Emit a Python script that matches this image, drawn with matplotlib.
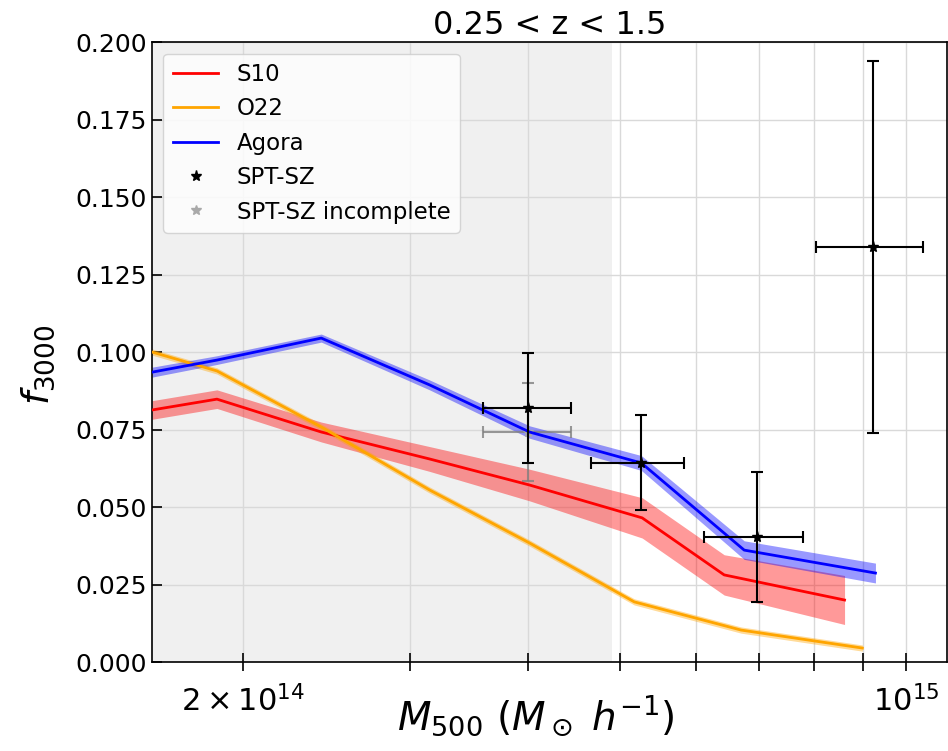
import numpy as np
import matplotlib
matplotlib.use("Agg")
import matplotlib.pyplot as plt
from matplotlib.ticker import FuncFormatter

# masses (M_sun / h) and f3000 values
m_s10 = [1.605e14, 1.879e14, 2.42e14, 3.147e14, 4.01e14, 5.27e14, 6.43e14, 8.61e14]
f_s10 = [0.0813, 0.0848, 0.0742, 0.0655, 0.0571, 0.0465, 0.0281, 0.0200]
e_s10 = [0.0030, 0.0030, 0.0032, 0.0040, 0.0051, 0.0065, 0.0065, 0.0079]

m_o22 = [1.605e14, 1.879e14, 2.42e14, 3.147e14, 4.01e14, 5.17e14, 6.70e14, 8.99e14]
f_o22 = [0.1000, 0.0939, 0.0758, 0.0555, 0.0384, 0.0194, 0.0103, 0.0045]
e_o22 = [0.0010, 0.0010, 0.0010, 0.0010, 0.0010, 0.0010, 0.0010, 0.0010]

m_agora = [1.605e14, 1.879e14, 2.42e14, 3.147e14, 4.01e14, 5.26e14, 6.75e14, 9.28e14]
f_agora = [0.0935, 0.0974, 0.1045, 0.0894, 0.0742, 0.0642, 0.0361, 0.0287]
e_agora = [0.0016, 0.0014, 0.0013, 0.0016, 0.0020, 0.0024, 0.0030, 0.0032]

# SPT-SZ measurements
m_spt = [4.0e14, 5.26e14, 6.97e14, 9.23e14]
m_spt_lo = [3.58e14, 4.66e14, 6.13e14, 8.04e14]
m_spt_hi = [4.44e14, 5.84e14, 7.79e14, 1.042e15]
f_spt = [0.0819, 0.0642, 0.0403, 0.1339]
f_spt_lo = [0.0642, 0.0490, 0.0194, 0.0739]
f_spt_hi = [0.0997, 0.0797, 0.0613, 0.1939]

# incomplete bin
m_inc = [4.0e14]
m_inc_lo = [3.58e14]
m_inc_hi = [4.44e14]
f_inc = [0.0742]
f_inc_lo = [0.0584]
f_inc_hi = [0.0900]

m_complete = 4.9e14


def asym(v, lo, hi):
    v = np.array(v)
    return [v - np.array(lo), np.array(hi) - v]


fig = plt.figure(figsize=(9.48, 7.51), dpi=100)
ax = fig.add_axes([0.1603, 0.1185, 0.8387, 0.8255])

ax.axvspan(1e13, m_complete, color='k', alpha=0.06, lw=0, zorder=0)

ax.plot(m_s10, f_s10, color='red', lw=2, label='S10', zorder=3)
ax.fill_between(m_s10, np.array(f_s10) - e_s10, np.array(f_s10) + e_s10,
                color='red', alpha=0.4, lw=0, zorder=2)
ax.plot(m_o22, f_o22, color='orange', lw=2, label='O22', zorder=3)
ax.fill_between(m_o22, np.array(f_o22) - e_o22, np.array(f_o22) + e_o22,
                color='orange', alpha=0.4, lw=0, zorder=2)
ax.plot(m_agora, f_agora, color='blue', lw=2, label='Agora', zorder=3)
ax.fill_between(m_agora, np.array(f_agora) - e_agora, np.array(f_agora) + e_agora,
                color='blue', alpha=0.4, lw=0, zorder=2)

ax.errorbar(m_inc, f_inc, xerr=asym(m_inc, m_inc_lo, m_inc_hi),
            yerr=asym(f_inc, f_inc_lo, f_inc_hi), fmt='none',
            ecolor='gray', alpha=0.8, elinewidth=1.5, capsize=4, capthick=1.5, zorder=2.5)
ax.plot(m_inc, f_inc, '*', color='darkgray', ms=7, ls='none',
        label='SPT-SZ incomplete', zorder=2.5)

ax.errorbar(m_spt, f_spt, xerr=asym(m_spt, m_spt_lo, m_spt_hi),
            yerr=asym(f_spt, f_spt_lo, f_spt_hi), fmt='none',
            ecolor='black', elinewidth=1.5, capsize=4, capthick=1.5, zorder=4)
ax.plot(m_spt, f_spt, '*', color='black', ms=8, ls='none', label='SPT-SZ', zorder=5)

ax.set_xscale('log')
ax.set_xlim(1.605e14, 1.104e15)
ax.set_ylim(0, 0.2)

# only the 2e14 minor tick carries a label
ax.xaxis.set_minor_formatter(FuncFormatter(
    lambda v, p: '$\\mathdefault{2\\times10^{14}}$' if abs(v - 2e14) < 1e12 else ''))

ax.grid(which='both', axis='x', color='0.85', lw=1)
ax.grid(which='major', axis='y', color='0.85', lw=1)
ax.set_axisbelow(True)

ax.tick_params(axis='x', which='both', direction='inout', length=13, width=1.2,
               labelsize=22, pad=10)
ax.tick_params(axis='y', which='both', direction='in', length=7, width=1.2,
               labelsize=18)
for s in ax.spines.values():
    s.set_linewidth(1.2)

ax.set_xlabel(r'$M_{500}\ (M_\odot\ h^{-1})$', fontsize=28)
ax.xaxis.set_label_coords(0.483, -0.05)
ax.set_ylabel(r'$f_{3000}$', fontsize=27)
ax.yaxis.set_label_coords(-0.12, 0.48)
ax.set_title('0.25 < z < 1.5', fontsize=23, pad=6)

h, l = ax.get_legend_handles_labels()
order = ['S10', 'O22', 'Agora', 'SPT-SZ', 'SPT-SZ incomplete']
hd = dict(zip(l, h))
ax.legend([hd[k] for k in order], order, loc='upper left', fontsize=16.5)

fig.savefig('out.png', dpi=100)
